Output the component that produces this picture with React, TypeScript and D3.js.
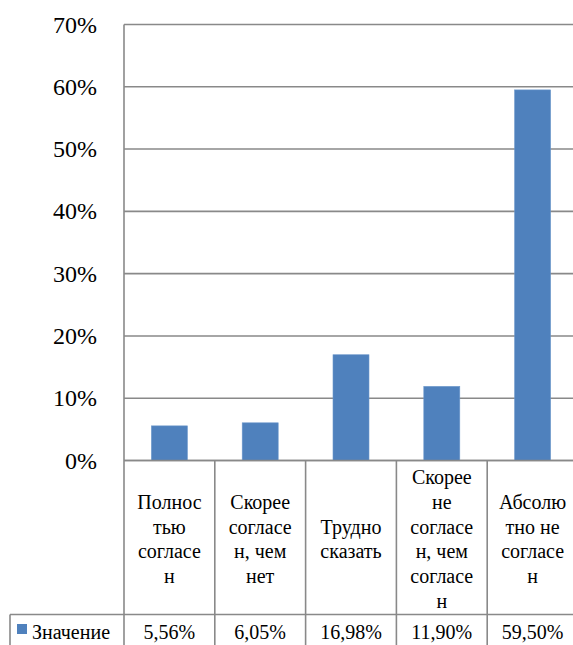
import React from "react";
import * as d3 from "d3";

const categories: string[][] = [
  ["Полнос", "тью", "согласе", "н"],
  ["Скорее", "согласе", "н, чем", "нет"],
  ["Трудно", "сказать"],
  ["Скорее", "не", "согласе", "н, чем", "согласе", "н"],
  ["Абсолю", "тно не", "согласе", "н"],
];
const values: number[] = [5.56, 6.05, 16.98, 11.9, 59.5];
const valueLabels: string[] = ["5,56%", "6,05%", "16,98%", "11,90%", "59,50%"];
const yTicks: number[] = [0, 10, 20, 30, 40, 50, 60, 70];
const seriesName = "Значение";

const W = 573;
const H = 645;
const left = 124;
const colW = 90.8;
const top = 24.5;
const zeroY = 460.5;
const tableMid = 614.5;
const FONT_A = "Tinos";
const FONT_B = "serif";
const gridColor = "#898989";
const barColor = "#4F81BD";

export default function App() {
  const ids = categories.map((_, i) => String(i));
  const x = d3.scaleBand<string>().domain(ids).range([left, left + colW * ids.length]).padding(0);
  const y = d3.scaleLinear().domain([0, 70]).range([zeroY, top]);
  const barW = 36;
  const lineH = 24.7;

  return (
    <svg width={W} height={H} style={{ position: "absolute", left: 0, top: 0, background: "#fff" }}>
      {yTicks.map((t) => (
        <line key={"g" + t} x1={left} x2={W} y1={y(t)} y2={y(t)} stroke={gridColor} strokeWidth={1.6} />
      ))}
      {yTicks.map((t) => (
        <text key={"t" + t} x={97} y={y(t) + 8} textAnchor="end" fontSize={24} fill="#000" fontFamily={FONT_A}>
          {t + "%"}
        </text>
      ))}
      {values.map((v, i) => {
        const cx = (x(String(i)) as number) + x.bandwidth() / 2;
        return (
          <rect
            key={"b" + i}
            x={cx - barW / 2}
            y={y(v)}
            width={barW}
            height={y(0) - y(v)}
            fill={barColor}
            stroke="#6C97CB"
            strokeWidth={0.6}
          />
        );
      })}
      <line x1={left} x2={left} y1={top} y2={H} stroke={gridColor} strokeWidth={1.6} />
      <line x1={left} x2={W} y1={zeroY} y2={zeroY} stroke={gridColor} strokeWidth={1.6} />
      <line x1={10} x2={W} y1={tableMid} y2={tableMid} stroke={gridColor} strokeWidth={1.6} />
      <line x1={10} x2={10} y1={tableMid} y2={H} stroke={gridColor} strokeWidth={1.6} />
      {ids.slice(1).map((id) => (
        <line
          key={"s" + id}
          x1={x(id) as number}
          x2={x(id) as number}
          y1={zeroY}
          y2={H}
          stroke={gridColor}
          strokeWidth={1.6}
        />
      ))}
      {categories.map((lines, i) => {
        const cx = (x(String(i)) as number) + x.bandwidth() / 2;
        const center = 540;
        const firstBase = center - ((lines.length - 1) * lineH) / 2 + 6;
        return lines.map((l, j) => (
          <text
            key={"c" + i + "-" + j}
            x={cx}
            y={firstBase + j * lineH}
            textAnchor="middle"
            fontSize={20}
            fill="#000"
            fontFamily={FONT_B}
          >
            {l}
          </text>
        ));
      })}
      <rect x={17} y={624} width={10} height={10} fill={barColor} />
      <text x={32} y={639} fontSize={20} fill="#000" fontFamily={FONT_A}>
        {seriesName}
      </text>
      {valueLabels.map((s, i) => {
        const cx = (x(String(i)) as number) + x.bandwidth() / 2;
        return (
          <text key={"v" + i} x={cx} y={639} textAnchor="middle" fontSize={20} fill="#000" fontFamily={FONT_A}>
            {s}
          </text>
        );
      })}
    </svg>
  );
}
